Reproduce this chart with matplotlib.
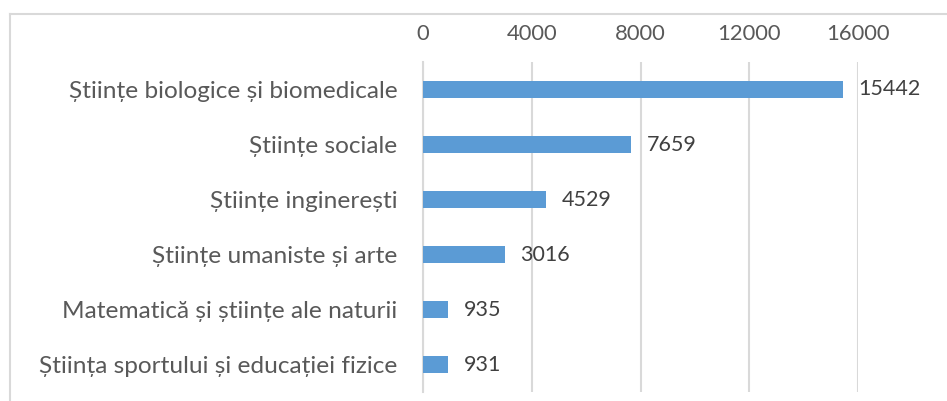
import matplotlib.pyplot as plt
from matplotlib.lines import Line2D

categories = [
    "Științe biologice și biomedicale",
    "Științe sociale",
    "Științe inginerești",
    "Științe umaniste și arte",
    "Matematică și științe ale naturii",
    "Știința sportului și educației fizice",
]
values = [15442, 7659, 4529, 3016, 935, 931]
ticks = [0, 4000, 8000, 12000, 16000]

BAR = "#5B9BD5"
GRID = "#D9D9D9"
TEXT = "#595959"
LABEL = "#404040"

plt.rcParams["font.family"] = ["Lato", "DejaVu Sans"]

fig = plt.figure(figsize=(9.47, 4.01), dpi=100)
ax = fig.add_axes([0.4467, 0.0224, 0.4593, 0.823])

pos = list(range(len(categories)))
ax.barh(pos, values, height=0.31, color=BAR, zorder=3)
ax.set_ylim(len(categories) - 0.5, -0.5)
ax.set_xlim(0, ticks[-1])

ax.set_xticks(ticks)
ax.set_xticklabels([str(t) for t in ticks])
ax.xaxis.tick_top()
ax.tick_params(axis="x", length=0, pad=13, labelsize=15.8, labelcolor=TEXT)
ax.set_yticks(pos)
ax.set_yticklabels(categories)
ax.tick_params(axis="y", length=0, pad=18.5, labelsize=17.6, labelcolor=TEXT)

ax.grid(axis="x", color=GRID, linewidth=1.5, zorder=0)
for side in ["top", "right", "bottom"]:
    ax.spines[side].set_visible(False)
ax.spines["left"].set_color(GRID)
ax.spines["left"].set_linewidth(1.5)

for p, v in zip(pos, values):
    ax.annotate(str(v), (v, p), xytext=(11, 0), textcoords="offset points",
                va="center", ha="left", fontsize=15.5, color=LABEL)

# outer chart frame (cropped at right and bottom)
fig.add_artist(Line2D([0.0106, 1.0], [0.965, 0.965], color=GRID, linewidth=1.5,
                      transform=fig.transFigure))
fig.add_artist(Line2D([0.0106, 0.0106], [0.0, 0.965], color=GRID, linewidth=1.5,
                      transform=fig.transFigure))

fig.savefig("out.png", dpi=100)
